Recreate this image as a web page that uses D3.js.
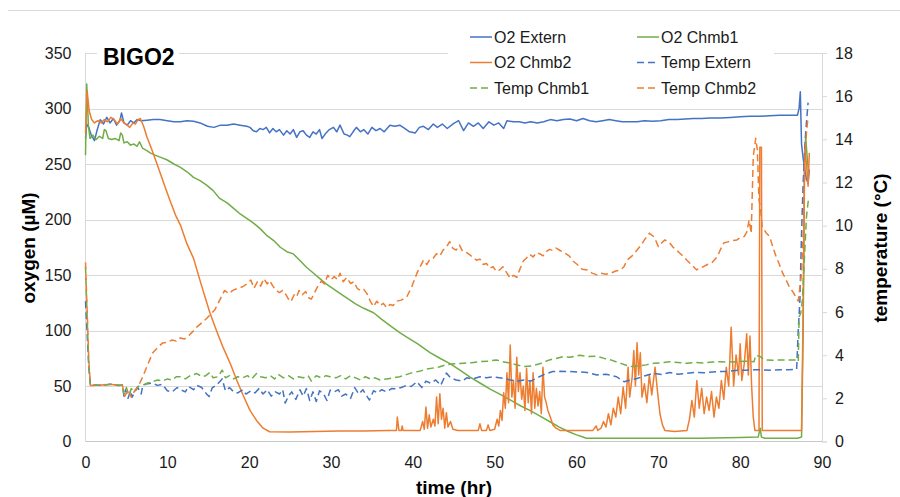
<!DOCTYPE html>
<html>
<head>
<meta charset="utf-8">
<script src="https://cdn.jsdelivr.net/npm/d3@7"></script>
<style>
  body { margin: 0; background: #fff; }
  svg text { font-family: "Liberation Sans", Arial, sans-serif; }
</style>
</head>
<body>
<svg id="chart" width="900" height="497"></svg>
<script>
/********** Data **********/

// time in hr, oxygen in uM
var o2Extern = [[0,273],[0.15,286],[0.4,283],[0.7,276],[1.1,271],[1.4,280],[1.8,290],[2.2,286],[2.6,292],[3.0,287],[3.4,291],[3.8,285],[4.2,289],[4.4,296],[4.7,287],[5.1,285],[5.5,289],[5.9,287],[6.3,290],[6.8,289],[7.5,289.5],[8.3,290],[9.1,290],[10,289],[10.8,288],[11.6,288],[12.4,289],[13.2,288.5],[14,287],[14.9,284],[15.7,283],[16.5,285],[17.3,285],[18.1,286],[18.9,285],[19.7,284],[20.1,283],[20.5,280],[20.9,279],[21.3,282],[21.7,281],[22.1,283],[22.5,278],[22.9,282],[23.3,279],[23.7,281],[24.2,276],[24.6,280],[25.0,277],[25.4,281],[25.8,274],[26.2,279],[26.6,280],[27.0,276],[27.4,274],[27.8,279],[28.2,277],[28.6,281],[28.9,273],[29.4,278],[29.8,281],[30.3,283],[30.7,279],[31.1,285],[31.6,277],[32,276],[32.3,274.6],[32.7,279],[33.1,283],[33.6,279],[34,281],[34.5,277],[35,283],[35.5,280],[36,282],[36.5,279],[37.2,285],[37.8,284],[38.4,285],[39,282],[39.6,279],[40.3,278],[40.8,283],[41.3,284],[41.9,281],[42.5,286],[43,283],[43.6,286],[44.2,282],[45,286.6],[45.6,289],[46.2,280],[46.8,287],[47.4,284],[48,287],[48.6,282],[49.3,288],[49.9,285],[50.5,287],[51.1,282],[51.5,289],[52.3,288],[53,288],[53.7,287],[54.4,288],[55.2,287],[56,288],[56.8,290],[57.6,289],[58.4,290],[59.2,290.5],[60,289],[60.8,291],[61.6,289],[62.4,288],[63.2,289],[64,290],[64.8,289],[65.6,288],[66.4,288],[67.4,288],[68.3,289],[69.3,288.5],[70.3,289],[71.3,290],[72.3,290],[73.3,290.5],[74.3,291],[75.3,291],[76.3,291.5],[77.6,291.5],[78.8,292],[80,292.5],[81.2,293],[82.4,293],[83.6,293.5],[84.8,294],[86,294],[87,294],[87.2,300],[87.35,315],[87.5,268],[87.7,255],[87.9,245],[88.1,236],[88.3,233],[88.45,245]];

var o2Chmb1 = [[0,258],[0.15,322],[0.35,285],[0.55,273],[0.9,276],[1.3,272],[1.7,275],[2.1,273],[2.3,281],[2.5,280],[2.8,273],[3.2,272],[3.6,273],[3.9,272],[4.1,271],[4.3,278],[4.5,276],[4.7,269],[5.1,270],[5.5,267],[5.9,268],[6.3,266],[6.6,270],[7.0,264],[7.5,262],[7.9,260],[8.5,258],[9.2,256],[10,253.6],[10.8,250],[11.6,247],[12.4,243],[13.2,238],[14,235],[14.8,231],[15.6,226],[16.4,219],[17.3,215],[18.1,210],[18.9,205],[19.7,201],[20.5,197],[21.3,192],[22.1,186],[23,181],[23.8,175],[24.6,171],[25.4,169],[26.2,163],[27.0,157],[27.8,152],[28.6,147],[29.4,142],[30.2,138],[31,134],[32,129],[33,124],[34,120],[35.2,116],[36.2,110],[37.3,104],[38.4,98],[39.5,93],[40.6,88],[42.1,80],[43.3,75],[44.6,70],[45.8,64],[47,58],[48.2,52.7],[49.5,47],[50.8,42],[52,37],[53.2,32],[54.3,28],[55.5,23],[56.7,18],[57.9,13],[59,9],[60,6],[60.8,4],[61.2,3],[65,3],[70,3],[75,3],[80,3.5],[82.2,4],[82.45,12],[82.6,4],[83,3],[85,3],[87,3],[87.5,4],[87.7,100],[87.85,250],[88.0,275],[88.2,255],[88.4,240]];

var o2Chmb2 = [[0,278],[0.2,316],[0.45,298],[0.75,290],[1.1,287],[1.5,289],[1.9,287],[2.3,290],[2.7,288],[3.1,292],[3.5,290],[3.9,286],[4.3,291],[4.7,287],[5.1,285],[5.4,283],[5.8,287],[6.1,286],[6.4,290],[6.7,291],[7.1,284],[7.5,274.6],[8.1,263],[8.7,251],[9.5,234],[10.3,217.6],[11,204],[11.6,195],[12.4,178],[13.2,165],[14.2,140],[15.2,116],[16,100],[16.8,85],[17.7,70],[18.5,55],[19.3,41],[20.1,28],[20.9,19],[21.7,12],[22.5,8.8],[25,8.5],[28,9],[31,9.5],[34,9.5],[37,10],[38,10],[38.1,22],[38.3,10],[38.6,10],[38.7,14],[38.8,10],[40,10],[40.9,10],[41.2,18],[41.4,11],[41.6,31],[41.8,12],[42,24],[42.2,13],[42.5,20],[42.7,14],[42.9,40],[43.1,16],[43.3,43],[43.5,20],[43.7,30],[43.9,12],[44.1,26],[44.3,13],[44.6,18],[44.9,11],[45.5,10],[47,10],[48,10],[48.2,16],[48.4,10],[49,10],[49.2,15],[49.4,10],[50,11],[50.3,20],[50.5,14],[50.7,28],[50.9,19],[51.1,44],[51.3,30],[51.5,62],[51.7,35],[51.9,87],[52.1,40],[52.3,55],[52.5,30],[52.7,76],[52.9,45],[53.1,62],[53.3,38],[53.5,50],[53.7,28],[53.9,66],[54.1,35],[54.3,55],[54.5,25],[54.7,62],[54.9,30],[55.1,48],[55.3,32],[55.5,45],[55.7,25],[55.9,67],[56.1,40],[56.3,35],[56.5,28],[56.8,22],[57.1,15],[57.5,12],[58,10],[60,10],[62,10],[62.4,14],[62.6,10],[63,12],[63.3,18],[63.6,13],[63.9,25],[64.2,15],[64.5,30],[64.8,22],[65.1,40],[65.4,25],[65.7,49],[66,30],[66.3,67],[66.5,40],[66.8,58],[67,82],[67.2,50],[67.4,89],[67.6,60],[67.8,80],[68,40],[68.3,52],[68.6,35],[68.9,60],[69.2,42],[69.6,67],[69.9,45],[70.2,25],[70.5,15],[70.8,10],[72,9],[73.5,10],[73.8,20],[74.1,37],[74.4,22],[74.7,55],[75,30],[75.3,48],[75.6,25],[75.9,40],[76.2,28],[76.5,45],[76.8,22],[77.1,40],[77.4,30],[77.7,55],[78,38],[78.3,67],[78.6,50],[78.9,103],[79.2,50],[79.5,78],[79.8,60],[80,88],[80.2,55],[80.5,70],[80.8,97],[81,60],[81.2,95],[81.4,50],[81.6,22],[81.8,10],[82.3,10],[82.4,265],[82.6,265],[82.7,10],[84,10],[86,10],[87.5,10],[87.75,150],[87.9,265],[88.1,250],[88.3,230],[88.45,260]];

// time in hr, temperature in C (right axis)
var tempExtern = [[0,6.5],[0.4,3.5],[0.6,2.6],[1,2.62],[2,2.6],[3,2.65],[4,2.6],[4.5,2.62],[4.7,2.1],[4.9,2.4],[5.2,2.0],[5.5,2.35],[5.7,2.05],[6,2.3],[6.4,2.5],[6.8,2.2],[7,2.6],[7.6,2.68],[8.2,2.7],[8.8,2.6],[9.4,2.65],[10,2.35],[10.6,2.3],[11.2,2.5],[11.6,2.4],[12.2,2.3],[12.6,2.55],[13.2,2.4],[13.6,2.6],[14.2,2.5],[14.8,2.2],[15.1,2.08],[15.5,2.5],[16,2.6],[16.7,2.9],[17.1,2.35],[17.6,2.5],[18.1,2.3],[18.6,2.25],[19.2,2.4],[19.6,2.2],[20.2,2.35],[20.7,2.25],[21.2,2.45],[21.7,2.2],[22.2,2.4],[22.7,2.1],[23.2,2.3],[23.7,2.2],[24.1,2.4],[24.4,1.78],[24.8,2.1],[25.2,2.3],[25.7,1.95],[26.2,2.4],[26.6,2.1],[27.0,2.45],[27.4,1.9],[27.8,2.3],[28.2,1.85],[28.6,2.35],[29.1,2.2],[29.5,1.9],[29.9,2.38],[30.4,2.3],[30.9,2.4],[31.3,2.1],[31.8,2.2],[32.4,2.0],[32.9,2.5],[33.4,2.2],[33.9,2.4],[34.3,2.15],[34.7,1.92],[35.2,2.35],[35.7,2.25],[36.2,2.4],[36.8,2.3],[37.4,2.45],[38,2.44],[38.6,2.5],[39.2,2.6],[39.8,2.55],[40.5,2.77],[41.1,2.5],[41.6,2.8],[42.2,2.7],[42.8,2.85],[43.4,2.6],[44.1,3.17],[44.6,2.95],[45.3,2.85],[46,2.8],[46.6,2.95],[47.3,2.9],[48.2,3.0],[49,2.95],[49.8,3.0],[50.6,2.95],[51.4,2.9],[51.9,2.85],[52.8,2.8],[53.6,2.85],[54.4,2.8],[55.2,2.95],[56,3.1],[57.1,3.24],[58,3.25],[59.2,3.24],[60.3,3.22],[61.3,3.2],[62.5,3.08],[63.6,3.12],[64.9,3.0],[65.8,2.77],[66.6,2.85],[67.4,2.92],[68.4,3.05],[69.4,3.16],[70.4,3.1],[71.4,3.2],[72.4,3.12],[73.5,3.16],[74.5,3.2],[75.6,3.18],[76.6,3.22],[77.6,3.24],[78.6,3.25],[79.7,3.3],[80.7,3.3],[81.7,3.32],[82.8,3.32],[83.8,3.3],[84.9,3.32],[85.9,3.33],[86.9,3.35],[87.1,5.17],[87.3,6.55],[87.5,9.65],[87.7,12],[88.0,14.3],[88.3,15.7]];

var tempChmb1 = [[0,8.1],[0.4,3.5],[0.6,2.6],[1,2.62],[2,2.6],[3,2.65],[4,2.62],[4.5,2.6],[4.7,2.2],[5,2.5],[5.3,2.15],[5.6,2.45],[6,2.3],[6.4,2.55],[6.9,2.6],[7.5,2.7],[8.2,2.77],[8.8,2.85],[9.4,2.8],[10,2.9],[10.6,2.85],[11.1,3.0],[11.6,3.0],[12.2,2.9],[12.8,3.05],[13.6,3.15],[14.2,3.0],[14.7,3.05],[15.2,3.2],[15.6,2.95],[16.2,3.0],[16.7,3.31],[17.1,2.95],[17.6,3.05],[18.1,2.9],[18.6,3.0],[19.2,2.95],[19.8,3.05],[20.3,2.9],[20.9,3.15],[21.4,3.0],[22,2.95],[22.6,3.05],[23.1,2.9],[23.6,3.1],[24.2,2.95],[24.8,3.05],[25.4,2.9],[26,3.0],[26.6,2.95],[27.2,3.05],[27.6,2.8],[28.2,3.05],[28.8,2.95],[29.4,3.05],[29.9,3.0],[30.6,2.95],[31.2,3.05],[31.8,2.9],[32.4,3.05],[33.0,2.95],[33.6,2.85],[34.2,3.0],[34.8,2.9],[35.4,2.95],[36,2.85],[36.8,2.9],[37.6,2.95],[38.4,3.0],[39.2,3.1],[40,3.2],[40.8,3.25],[41.6,3.35],[42.4,3.4],[43.2,3.45],[44.1,3.56],[45,3.6],[46.2,3.63],[47.2,3.65],[48.2,3.7],[49.2,3.72],[50.2,3.78],[51,3.7],[51.9,3.63],[52.7,3.55],[53.5,3.47],[54.5,3.5],[55.5,3.6],[56.7,3.78],[57.5,3.85],[58.4,3.93],[59.2,3.9],[60.4,4.0],[61.3,3.94],[62.5,3.95],[63.4,3.85],[64.2,3.78],[65.4,3.62],[66.6,3.47],[67.6,3.5],[68.5,3.55],[69.4,3.62],[70.4,3.65],[71.4,3.7],[72.4,3.66],[73.5,3.62],[74.5,3.66],[75.5,3.64],[76.6,3.68],[77.6,3.7],[78.6,3.68],[79.7,3.7],[80.7,3.72],[81.7,3.7],[81.9,4.0],[82.5,3.93],[82.9,3.78],[84,3.76],[85,3.78],[86,3.78],[86.9,3.78],[87.1,3.7],[87.2,5.78],[87.4,5.93],[87.6,6.55],[87.8,8.1],[88.1,10.4],[88.35,11.25]];

var tempChmb2 = [[0,8.3],[0.4,3.8],[0.6,2.6],[1,2.6],[2,2.62],[3,2.65],[4,2.6],[4.5,2.62],[4.8,2.1],[5.2,2.4],[5.6,2.05],[6,2.35],[6.5,2.6],[7,3.0],[7.5,3.47],[8.2,4.1],[8.8,4.35],[9.4,4.56],[10,4.6],[10.6,4.7],[11.1,4.65],[11.6,4.8],[12.1,4.75],[12.6,4.9],[13.1,5.09],[13.6,5.3],[14.2,5.5],[14.8,5.7],[15.3,5.9],[15.8,6.1],[16.2,6.4],[16.6,6.7],[17,7.0],[17.5,6.85],[18,7.0],[18.6,7.1],[19.2,7.17],[19.7,7.3],[20.2,7.48],[20.6,7.1],[21,7.4],[21.4,7.2],[21.8,7.55],[22.2,7.3],[22.5,7.46],[22.9,7.2],[23.3,7.0],[23.7,6.9],[24.1,7.0],[24.5,6.8],[24.8,6.6],[25.1,6.48],[25.5,6.8],[25.8,6.7],[26.1,7.0],[26.5,6.8],[26.9,6.95],[27.3,6.65],[27.6,6.6],[28,6.9],[28.4,7.2],[28.8,7.43],[29.2,7.3],[29.6,7.7],[30,7.5],[30.4,7.64],[30.8,7.5],[31.1,7.8],[31.5,7.4],[31.9,7.6],[32.4,7.32],[32.8,7.4],[33.2,7.1],[33.6,7.0],[34,7.05],[34.4,6.85],[34.8,6.5],[35.2,6.25],[35.6,6.5],[36,6.3],[36.4,6.4],[36.8,6.2],[37.2,6.35],[37.6,6.3],[38,6.5],[38.6,6.55],[39.3,6.73],[39.9,7.2],[40.5,7.8],[40.9,8.1],[41.3,8.4],[41.7,8.2],[42.1,8.45],[42.5,8.5],[42.9,8.7],[43.3,8.6],[43.7,8.87],[44.1,9.0],[44.5,9.26],[44.9,8.95],[45.3,8.87],[45.7,9.1],[46.1,8.8],[46.6,8.75],[47,8.64],[47.4,8.5],[47.8,8.4],[48.2,8.45],[48.6,8.2],[49,8.25],[49.4,8.03],[49.8,8.1],[50.2,7.88],[50.6,7.95],[51,8.1],[51.5,7.8],[51.9,7.57],[52.3,7.7],[52.7,7.6],[53.1,8.0],[53.5,8.36],[53.9,8.5],[54.3,8.67],[54.7,8.55],[55.1,8.75],[55.5,8.7],[55.9,8.6],[56.3,8.8],[56.7,8.9],[57.1,8.85],[57.5,8.96],[58,8.85],[58.5,8.75],[59.1,8.6],[59.6,8.35],[60.1,8.2],[60.7,7.98],[61.3,7.95],[61.9,7.8],[62.5,7.72],[63,7.8],[63.6,7.75],[64.2,7.8],[64.8,7.9],[65.4,7.95],[65.8,8.1],[66.2,8.41],[66.8,8.6],[67.4,8.87],[67.9,9.1],[68.3,9.34],[68.9,9.65],[69.4,9.5],[69.7,9.3],[70,9.03],[70.4,9.2],[70.8,9.34],[71.4,9.2],[71.8,9.0],[72.2,8.87],[72.7,8.7],[73.1,8.56],[73.5,8.4],[73.9,8.25],[74.3,8.1],[74.7,7.95],[75.1,8.05],[75.5,8.1],[76,8.2],[76.6,8.3],[77.2,8.56],[77.6,8.9],[78,9.2],[78.5,9.25],[79,9.3],[79.6,9.34],[80,9.45],[80.5,9.5],[80.8,9.7],[81.1,10.26],[81.35,9.65],[81.6,13.2],[81.9,14.05],[82.1,13.5],[82.3,11.2],[82.5,10.73],[82.7,9.95],[83.2,9.65],[83.6,9.5],[84,9.0],[84.4,8.56],[84.8,8.2],[85.2,7.8],[85.6,7.5],[86,7.17],[86.5,6.9],[86.9,6.63],[87.1,6.5],[87.5,7.8],[87.7,9.65],[87.9,13.1],[88.1,14.3],[88.3,15.05]];

var xTicks = [0, 10, 20, 30, 40, 50, 60, 70, 80, 90];
var o2Ticks = [0, 50, 100, 150, 200, 250, 300, 350];
var tempTicks = [0, 2, 4, 6, 8, 10, 12, 14, 16, 18];

var seriesNames = ["O2 Extern", "O2 Chmb1", "O2 Chmb2", "Temp Extern", "Temp Chmb1", "Temp Chmb2"];
var seriesData = [o2Extern, o2Chmb1, o2Chmb2, tempExtern, tempChmb1, tempChmb2];
var seriesAxis = ["left", "left", "left", "right", "right", "right"];

/********** Look **********/

var BLUE = "#4472C4", ORANGE = "#ED7D31", GREEN = "#70AD47";
var seriesColors = [BLUE, GREEN, ORANGE, BLUE, GREEN, ORANGE];
var seriesDash = [null, null, null, "7,4", "7,4", "7,4"];
var GRID = "#d9d9d9";
var PLOT = {left: 85.5, right: 822, top: 53, bottom: 441.5};

var svg = d3.select("#chart");

var xScale = d3.scaleLinear().domain([0, 90]).range([PLOT.left, PLOT.right]);
var yLeft = d3.scaleLinear().domain([0, 350]).range([PLOT.bottom, PLOT.top]);
var yRight = d3.scaleLinear().domain([0, 18]).range([PLOT.bottom, PLOT.top]);

// frame line at top of the picture
svg.append("line")
  .attr("x1", 8).attr("x2", 900)
  .attr("y1", 10.5).attr("y2", 10.5)
  .attr("stroke", GRID).attr("stroke-width", 1);

/********** Grid + axes **********/

svg.append("g").selectAll("line")
  .data(o2Ticks.filter(function(d) { return d > 0; }))
  .enter().append("line")
  .attr("x1", PLOT.left).attr("x2", PLOT.right)
  .attr("y1", function(d) { return Math.round(yLeft(d)) + 0.5; })
  .attr("y2", function(d) { return Math.round(yLeft(d)) + 0.5; })
  .attr("stroke", GRID).attr("stroke-width", 1);

// left, bottom and right axis lines
svg.append("line")
  .attr("x1", PLOT.left).attr("x2", PLOT.left)
  .attr("y1", PLOT.top).attr("y2", PLOT.bottom)
  .attr("stroke", GRID);
svg.append("line")
  .attr("x1", PLOT.left).attr("x2", PLOT.right)
  .attr("y1", PLOT.bottom).attr("y2", PLOT.bottom)
  .attr("stroke", "#c8c8c8");

var xAxis = svg.append("g")
  .attr("transform", "translate(0," + PLOT.bottom + ")")
  .call(d3.axisBottom(xScale).tickValues(xTicks).tickSize(0).tickPadding(15));
var leftAxis = svg.append("g")
  .attr("transform", "translate(" + PLOT.left + ",0)")
  .call(d3.axisLeft(yLeft).tickValues(o2Ticks).tickSize(0).tickPadding(14));
var rightAxis = svg.append("g")
  .attr("transform", "translate(" + PLOT.right + ",0)")
  .call(d3.axisRight(yRight).tickValues(tempTicks).tickSize(5).tickPadding(8));

[xAxis, leftAxis, rightAxis].forEach(function(ax) {
  ax.select(".domain").attr("stroke", GRID);
  ax.selectAll(".tick line").attr("stroke", GRID);
  ax.selectAll("text")
    .style("font-family", "Liberation Sans, Arial, sans-serif")
    .style("font-size", "16px")
    .attr("fill", "#1a1a1a");
});
xAxis.select(".domain").remove();
leftAxis.select(".domain").remove();

/********** Lines **********/

var plotG = svg.append("g");
for (var i = 0; i < seriesData.length; i++) {
  var yS = seriesAxis[i] == "left" ? yLeft : yRight;
  var line = d3.line()
    .x(function(d) { return xScale(d[0]); })
    .y((function(s) { return function(d) { return s(d[1]); }; })(yS));
  plotG.append("path")
    .datum(seriesData[i])
    .attr("d", line)
    .attr("fill", "none")
    .attr("stroke", seriesColors[i])
    .attr("stroke-width", 1.5)
    .attr("stroke-linejoin", "round")
    .attr("stroke-dasharray", seriesDash[i]);
}

/********** Titles **********/

svg.append("rect")
  .attr("x", 97).attr("y", 42).attr("width", 82).attr("height", 24)
  .attr("fill", "#fff");
svg.append("text")
  .attr("x", 103).attr("y", 65)
  .style("font-size", "23px").style("font-weight", "bold")
  .text("BIGO2");

svg.append("text")
  .attr("x", 454).attr("y", 494)
  .attr("text-anchor", "middle")
  .style("font-size", "19px").style("font-weight", "bold")
  .text("time (hr)");

svg.append("text")
  .attr("transform", "translate(35,248) rotate(-90)")
  .attr("text-anchor", "middle")
  .style("font-size", "19px").style("font-weight", "bold")
  .text("oxygen (µM)");

svg.append("text")
  .attr("transform", "translate(887,248) rotate(-90)")
  .attr("text-anchor", "middle")
  .style("font-size", "19px").style("font-weight", "bold")
  .text("temperature (°C)");

/********** Legend **********/

var legend = svg.append("g");
legend.append("rect")
  .attr("x", 448).attr("y", 22).attr("width", 326).attr("height", 78)
  .attr("fill", "#fff");

var legendCols = [470, 637];
var legendRows = [37, 62.5, 88];
for (var k = 0; k < seriesNames.length; k++) {
  var lx = legendCols[k % 2], ly = legendRows[Math.floor(k / 2)];
  legend.append("line")
    .attr("x1", lx).attr("x2", lx + 22)
    .attr("y1", ly).attr("y2", ly)
    .attr("stroke", seriesColors[k])
    .attr("stroke-width", 1.5)
    .attr("stroke-dasharray", seriesDash[k]);
  legend.append("text")
    .attr("x", lx + 24).attr("y", ly + 5.5)
    .style("font-size", "16px")
    .attr("fill", "#1a1a1a")
    .text(seriesNames[k]);
}
</script>
</body>
</html>
